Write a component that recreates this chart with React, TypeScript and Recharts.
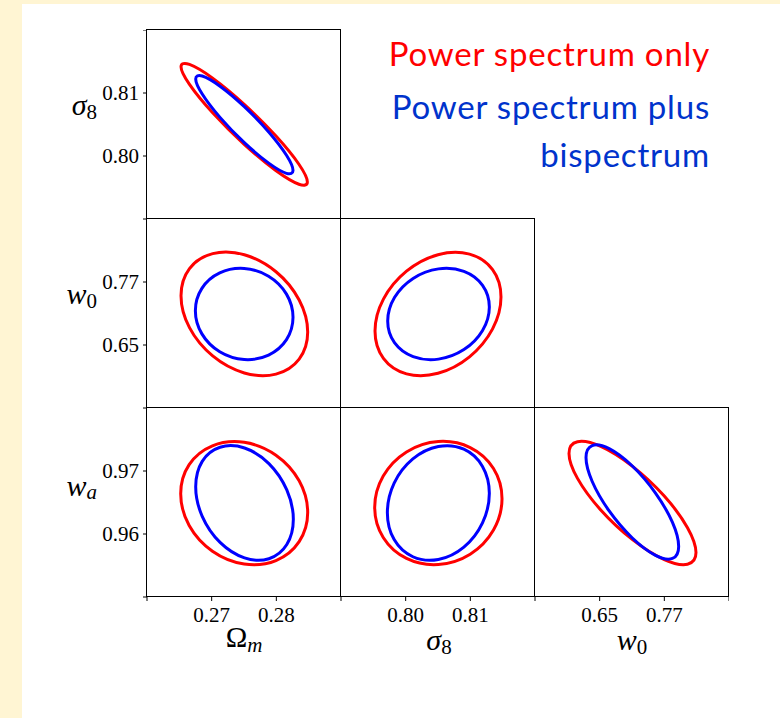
import React from "react";
import { LineChart, Line, XAxis, YAxis } from "recharts";

// axis ticks (outer ticks carry no label, as in the figure)
const omegaTicks = [0.26, 0.27, 0.28, 0.29];
const sigmaTicks = [0.79, 0.8, 0.81, 0.82];
const w0Ticks = [0.53, 0.65, 0.77, 0.89];
const waTicks = [0.95, 0.96, 0.97, 0.98];

// contour points, [x, y] in data units
const omSigRed = [[0.2848, 0.79588], [0.28349, 0.79552], [0.27991, 0.7977], [0.27503, 0.80185], [0.27015, 0.80685], [0.26657, 0.81136], [0.26526, 0.81417], [0.26657, 0.81453], [0.27015, 0.81235], [0.27503, 0.8082], [0.27991, 0.8032], [0.28349, 0.79869]];
const omSigBlue = [[0.28258, 0.79771], [0.28157, 0.79725], [0.27882, 0.79887], [0.27505, 0.80212], [0.27129, 0.80613], [0.26854, 0.80984], [0.26753, 0.81224], [0.26854, 0.81269], [0.27129, 0.81108], [0.27505, 0.80783], [0.27882, 0.80381], [0.28157, 0.80011]];

const omW0Red = [[0.28485, 0.67476], [0.28353, 0.62308], [0.27995, 0.59457], [0.27505, 0.59679], [0.27016, 0.62918], [0.26657, 0.68302], [0.26526, 0.74397], [0.26657, 0.79559], [0.27016, 0.8241], [0.27505, 0.82194], [0.27995, 0.78949], [0.28353, 0.73565]];
const omW0Blue = [[0.28258, 0.7027], [0.28157, 0.66016], [0.2788, 0.63076], [0.27503, 0.62232], [0.27125, 0.63711], [0.26849, 0.67121], [0.26748, 0.7154], [0.26849, 0.75794], [0.27125, 0.78733], [0.27503, 0.79578], [0.2788, 0.78098], [0.28157, 0.74689]];

const sigW0Red = [[0.81474, 0.74143], [0.81344, 0.68067], [0.80987, 0.62746], [0.805, 0.59616], [0.80013, 0.59508], [0.79656, 0.62454], [0.79526, 0.67667], [0.79656, 0.73743], [0.80013, 0.79064], [0.805, 0.82194], [0.80987, 0.82302], [0.81344, 0.79356]];
const sigW0Blue = [[0.81294, 0.72238], [0.81189, 0.67762], [0.80901, 0.64124], [0.80508, 0.62308], [0.80115, 0.62791], [0.79827, 0.65451], [0.79722, 0.69571], [0.79827, 0.74048], [0.80115, 0.77686], [0.80508, 0.79502], [0.80901, 0.79019], [0.81189, 0.76359]];

const omWaRed = [[0.28485, 0.96341], [0.28353, 0.95879], [0.27994, 0.95579], [0.27503, 0.95524], [0.27012, 0.95727], [0.26652, 0.96135], [0.26521, 0.96638], [0.26652, 0.971], [0.27012, 0.97399], [0.27503, 0.97455], [0.27994, 0.97251], [0.28353, 0.96844]];
const omWaBlue = [[0.28263, 0.96233], [0.28162, 0.95832], [0.27885, 0.95607], [0.27508, 0.9562], [0.2713, 0.95866], [0.26854, 0.9628], [0.26753, 0.96751], [0.26854, 0.97153], [0.2713, 0.97377], [0.27508, 0.97365], [0.27885, 0.97118], [0.28162, 0.967]];

const sigWaRed = [[0.8149, 0.96561], [0.81358, 0.96064], [0.80998, 0.9568], [0.80505, 0.95516], [0.80013, 0.95612], [0.79653, 0.95944], [0.79521, 0.96423], [0.79653, 0.9692], [0.80013, 0.97303], [0.80505, 0.97468], [0.80998, 0.97372], [0.81358, 0.9704]];
const sigWaBlue = [[0.81294, 0.96645], [0.81188, 0.96177], [0.809, 0.95792], [0.80505, 0.95595], [0.80111, 0.95639], [0.79822, 0.95911], [0.79717, 0.96339], [0.79822, 0.96808], [0.80111, 0.97192], [0.80505, 0.97389], [0.809, 0.97346], [0.81188, 0.97073]];

const w0WaRed = [[0.82876, 0.95705], [0.81299, 0.9552], [0.76985, 0.95594], [0.71093, 0.9591], [0.65201, 0.96381], [0.60887, 0.96883], [0.59309, 0.97279], [0.60887, 0.97465], [0.65201, 0.9739], [0.71093, 0.97074], [0.76985, 0.96603], [0.81299, 0.961]];
const w0WaBlue = [[0.7966, 0.95803], [0.78509, 0.95612], [0.75361, 0.95661], [0.71062, 0.95937], [0.66763, 0.96366], [0.63615, 0.96833], [0.62464, 0.97213], [0.63615, 0.97404], [0.66763, 0.97355], [0.71062, 0.97079], [0.75361, 0.9665], [0.78509, 0.96183]];

const RED = "#ff0000";
const BLUE = "#0000ff";
const SERIF = "'Liberation Serif', 'Times New Roman', serif";

// closed catmull-rom curve so the contour passes through every read point
function closedSpline(context: any) {
  let pts: number[][] = [];
  return {
    areaStart() {},
    areaEnd() {},
    lineStart() { pts = []; },
    point(x: number, y: number) { pts.push([x, y]); },
    lineEnd() {
      const n = pts.length;
      if (!n) return;
      context.moveTo(pts[0][0], pts[0][1]);
      for (let i = 0; i < n; i++) {
        const p0 = pts[(i - 1 + n) % n], p1 = pts[i], p2 = pts[(i + 1) % n], p3 = pts[(i + 2) % n];
        context.bezierCurveTo(
          p1[0] + (p2[0] - p0[0]) / 6, p1[1] + (p2[1] - p0[1]) / 6,
          p2[0] - (p3[0] - p1[0]) / 6, p2[1] - (p3[1] - p1[1]) / 6,
          p2[0], p2[1]
        );
      }
      context.closePath();
    },
  };
}

const toPts = (a: number[][]) => a.map(([x, y]) => ({ x, y }));
const innerOnly = (t: number[]) => (v: number) => (v === t[0] || v === t[t.length - 1] ? "" : v.toFixed(2));
const tickFont = { fill: "#000", fontSize: 21, fontFamily: SERIF };

const PW = 194, PH = 189, YW = 90, XH = 60;

function Panel({ x, y, xt, yt, red, blue, showX, showY }: any) {
  const w = PW + (showY ? YW : 0);
  const h = PH + (showX ? XH : 0);
  return (
    <div style={{ position: "absolute", left: x - (showY ? YW : 0), top: y }}>
      <LineChart width={w} height={h} margin={{ top: 0, right: 0, bottom: 0, left: 0 }}>
        <XAxis type="number" dataKey="x" domain={[xt[0], xt[3]]} ticks={xt} interval={0} hide={!showX} height={XH}
          axisLine={false} tickLine={{ stroke: "#000" }} tickSize={4} tickMargin={6} tick={tickFont} tickFormatter={innerOnly(xt)} />
        <YAxis type="number" dataKey="y" domain={[yt[0], yt[3]]} ticks={yt} interval={0} hide={!showY} width={YW}
          axisLine={false} tickLine={{ stroke: "#000" }} tickSize={4} tickMargin={4} tick={tickFont} tickFormatter={innerOnly(yt)} />
        <Line data={toPts(red)} dataKey="y" type={closedSpline as any} stroke={RED} strokeWidth={3} dot={false} activeDot={false} isAnimationActive={false} />
        <Line data={toPts(blue)} dataKey="y" type={closedSpline as any} stroke={BLUE} strokeWidth={3} dot={false} activeDot={false} isAnimationActive={false} />
      </LineChart>
    </div>
  );
}

const cols = [147, 341, 535];
const rows = [30, 219, 408];

export default function App() {
  return (
    <div style={{ position: "absolute", left: 0, top: 0, width: 780, height: 718, background: "#fff5d3", overflow: "hidden" }}>
      <div style={{ position: "absolute", left: 22, top: 4, width: 758, height: 714, background: "#fff" }} />
      <Panel x={cols[0]} y={rows[0]} xt={omegaTicks} yt={sigmaTicks} red={omSigRed} blue={omSigBlue} showY />
      <Panel x={cols[0]} y={rows[1]} xt={omegaTicks} yt={w0Ticks} red={omW0Red} blue={omW0Blue} showY />
      <Panel x={cols[1]} y={rows[1]} xt={sigmaTicks} yt={w0Ticks} red={sigW0Red} blue={sigW0Blue} />
      <Panel x={cols[0]} y={rows[2]} xt={omegaTicks} yt={waTicks} red={omWaRed} blue={omWaBlue} showY showX />
      <Panel x={cols[1]} y={rows[2]} xt={sigmaTicks} yt={waTicks} red={sigWaRed} blue={sigWaBlue} showX />
      <Panel x={cols[2]} y={rows[2]} xt={w0Ticks} yt={waTicks} red={w0WaRed} blue={w0WaBlue} showX />
      <svg width={780} height={718} style={{ position: "absolute", left: 0, top: 0, pointerEvents: "none" }}>
        {[[0, 0], [0, 1], [1, 1], [0, 2], [1, 2], [2, 2]].map(([c, r]) => (
          <rect key={`${c}${r}`} x={cols[c] - 0.5} y={rows[r] - 0.5} width={PW} height={PH} fill="none" stroke="#000" strokeWidth={1} />
        ))}
        <g fontFamily={SERIF} fill="#000">
          <text x={97} y={115} textAnchor="end" fontSize={30}>
            <tspan fontStyle="italic">σ</tspan><tspan fontSize={21} dy={4}>8</tspan>
          </text>
          <text x={97} y={304} textAnchor="end" fontSize={30}>
            <tspan fontStyle="italic">w</tspan><tspan fontSize={21} dy={4}>0</tspan>
          </text>
          <text x={97} y={496} textAnchor="end" fontSize={30}>
            <tspan fontStyle="italic">w</tspan><tspan fontSize={21} fontStyle="italic" dy={3}>a</tspan>
          </text>
          <text x={244} y={647} textAnchor="middle" fontSize={29}>
            <tspan>Ω</tspan><tspan fontSize={21} fontStyle="italic" dy={5}>m</tspan>
          </text>
          <text x={439} y={650} textAnchor="middle" fontSize={30}>
            <tspan fontStyle="italic">σ</tspan><tspan fontSize={21} dy={4}>8</tspan>
          </text>
          <text x={632} y={650} textAnchor="middle" fontSize={30}>
            <tspan fontStyle="italic">w</tspan><tspan fontSize={21} dy={4}>0</tspan>
          </text>
        </g>
        <g fontFamily="Lato, 'Open Sans', sans-serif" fontSize={33} letterSpacing={0.8} textAnchor="end">
          <text x={710} y={66} fill="#ff0000">Power spectrum only</text>
          <text x={710} y={119} fill="#0033cc">Power spectrum plus</text>
          <text x={710} y={167} fill="#0033cc">bispectrum</text>
        </g>
      </svg>
    </div>
  );
}
